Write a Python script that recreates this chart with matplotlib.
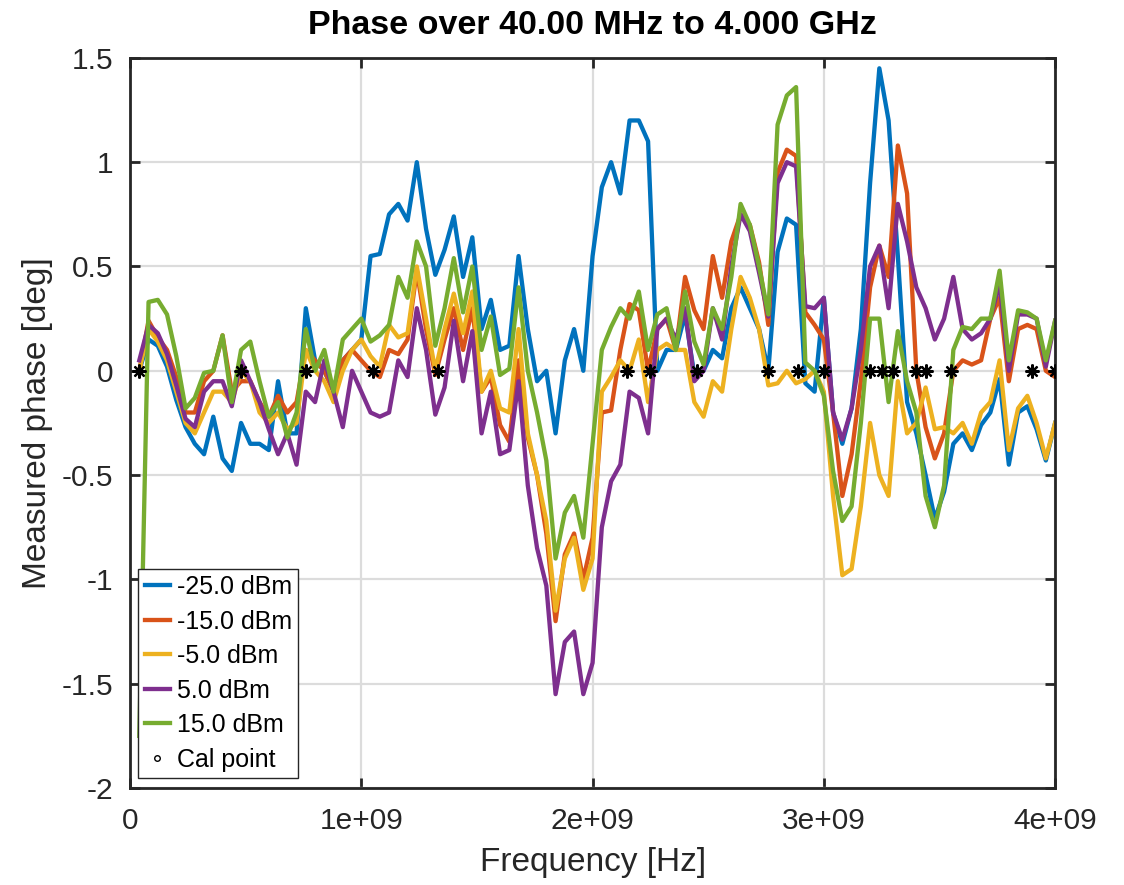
import numpy as np
import matplotlib.pyplot as plt
from matplotlib.lines import Line2D

plt.rcParams['font.family'] = ['Liberation Sans', 'DejaVu Sans']

# frequency grid, 40 MHz steps from 40 MHz to 4 GHz
freq = np.arange(1, 101) * 40e6

# measured phase [deg] per power level
p_m25 = [0.0, 0.15, 0.12, 0.02, -0.14, -0.27, -0.35, -0.4, -0.22, -0.42,
         -0.48, -0.25, -0.35, -0.35, -0.38, -0.05, -0.3, -0.3, 0.3, 0.05,
         0.0, -0.1, 0.05, 0.1, 0.15, 0.55, 0.56, 0.75, 0.8, 0.72,
         1.0, 0.68, 0.46, 0.58, 0.74, 0.45, 0.64, 0.2, 0.34, 0.1,
         0.12, 0.55, 0.2, -0.05, 0.0, -0.3, 0.05, 0.2, 0.0, 0.55,
         0.88, 1.0, 0.85, 1.2, 1.2, 1.1, 0.0, 0.1, 0.1, 0.27,
         -0.02, 0.0, 0.1, 0.06, 0.3, 0.4, 0.3, 0.2, 0.0, 0.57,
         0.73, 0.7, -0.06, -0.1, 0.35, -0.2, -0.35, -0.18, 0.2, 0.9,
         1.45, 1.2, 0.55, -0.15, -0.3, -0.5, -0.71, -0.58, -0.35, -0.3,
         -0.38, -0.26, -0.2, -0.04, -0.45, -0.2, -0.17, -0.28, -0.43, -0.25]

p_m15 = [0.0, 0.24, 0.16, 0.1, -0.03, -0.2, -0.2, -0.05, 0.0, 0.17,
         -0.1, -0.05, -0.05, -0.15, -0.22, -0.12, -0.2, -0.15, 0.1, 0.05,
         0.0, -0.1, 0.05, 0.1, 0.05, 0.0, -0.03, 0.1, 0.08, 0.15,
         0.48, 0.2, -0.02, 0.15, 0.3, 0.1, 0.3, -0.1, -0.03, -0.26,
         -0.34, 0.05, -0.32, -0.5, -0.78, -1.2, -0.88, -0.78, -1.0, -0.8,
         -0.2, -0.19, 0.1, 0.32, 0.29, 0.0, 0.2, 0.25, 0.1, 0.45,
         0.29, 0.2, 0.55, 0.35, 0.62, 0.75, 0.7, 0.52, 0.22, 0.95,
         1.06, 1.03, 0.28, 0.22, 0.15, -0.2, -0.6, -0.4, -0.05, 0.4,
         0.6, 0.45, 1.08, 0.85, 0.0, -0.27, -0.42, -0.3, 0.0, 0.05,
         0.03, 0.05, 0.25, 0.35, -0.05, 0.2, 0.22, 0.2, 0.0, -0.03]

p_m5 = [0.0, 0.2, 0.14, 0.05, -0.1, -0.25, -0.3, -0.2, -0.1, -0.1,
        -0.15, 0.0, -0.05, -0.2, -0.25, -0.2, -0.28, -0.25, 0.1, 0.0,
        -0.05, -0.15, 0.0, 0.1, 0.15, 0.07, 0.02, 0.22, 0.16, 0.18,
        0.5, 0.25, 0.0, 0.2, 0.37, 0.18, 0.38, -0.1, 0.0, -0.18,
        -0.2, 0.2, -0.3, -0.5, -0.72, -1.15, -0.9, -0.8, -1.05, -0.9,
        -0.1, -0.03, 0.05, 0.0, 0.15, -0.15, 0.1, 0.13, 0.1, 0.1,
        -0.15, -0.22, -0.05, -0.1, 0.2, 0.45, 0.35, 0.2, -0.07, -0.06,
        0.0, -0.06, -0.04, 0.0, -0.1, -0.6, -0.98, -0.95, -0.65, -0.25,
        -0.5, -0.6, -0.05, -0.3, -0.25, -0.08, -0.28, -0.27, -0.3, -0.25,
        -0.35, -0.2, -0.15, 0.05, -0.38, -0.18, -0.12, -0.25, -0.42, -0.25]

p_p5 = [0.05, 0.22, 0.18, 0.08, -0.07, -0.23, -0.27, -0.1, -0.05, -0.05,
        -0.17, 0.05, -0.05, -0.15, -0.28, -0.4, -0.3, -0.45, -0.1, -0.15,
        0.05, -0.1, -0.27, 0.0, -0.1, -0.2, -0.22, -0.2, 0.05, -0.03,
        0.3, 0.1, -0.21, -0.08, 0.24, -0.05, 0.19, -0.3, -0.1, -0.4,
        -0.38, -0.05, -0.55, -0.85, -1.03, -1.55, -1.3, -1.25, -1.55, -1.4,
        -0.75, -0.53, -0.45, -0.1, -0.13, -0.3, 0.2, 0.25, 0.15, 0.3,
        -0.05, 0.0, 0.3, 0.15, 0.5, 0.75, 0.67, 0.47, 0.26, 0.9,
        1.0, 0.98, 0.31, 0.3, 0.35, -0.2, -0.33, -0.18, 0.1, 0.5,
        0.6, 0.3, 0.8, 0.62, 0.4, 0.3, 0.15, 0.25, 0.45, 0.2,
        0.15, 0.18, 0.25, 0.42, 0.0, 0.27, 0.27, 0.25, 0.02, 0.24]

p_p15 = [-1.75, 0.33, 0.34, 0.27, 0.07, -0.18, -0.13, -0.01, 0.0, 0.17,
         -0.15, 0.1, 0.14, -0.05, -0.22, -0.15, -0.32, -0.2, 0.2, 0.0,
         0.1, -0.1, 0.15, 0.2, 0.25, 0.14, 0.17, 0.22, 0.45, 0.35,
         0.62, 0.5, 0.12, 0.3, 0.54, 0.28, 0.5, 0.1, 0.26, -0.02,
         0.01, 0.4, 0.0, -0.2, -0.43, -0.9, -0.68, -0.6, -0.8, -0.35,
         0.1, 0.21, 0.3, 0.25, 0.38, 0.1, 0.27, 0.3, 0.1, 0.38,
         0.14, 0.03, 0.3, 0.2, 0.45, 0.8, 0.7, 0.5, 0.27, 1.18,
         1.32, 1.36, 0.04, 0.0, -0.12, -0.48, -0.72, -0.65, -0.25, 0.25,
         0.25, -0.15, 0.19, -0.05, -0.2, -0.6, -0.75, -0.55, 0.1, 0.21,
         0.2, 0.25, 0.25, 0.48, 0.05, 0.29, 0.28, 0.25, 0.05, 0.24]

series = [p_m25, p_m15, p_m5, p_p5, p_p15]
labels = ['-25.0 dBm', '-15.0 dBm', '-5.0 dBm', '5.0 dBm', '15.0 dBm']
colors = ['#0072BD', '#D95319', '#EDB120', '#7E2F8E', '#77AC30']

cal_freq = np.array([40, 480, 760, 1050, 1330, 2150, 2250, 2450, 2760, 2890,
                     3000, 3200, 3250, 3300, 3400, 3440, 3550, 3900, 4000]) * 1e6
cal_phase = np.zeros(len(cal_freq))

fig = plt.figure(figsize=(11.24, 8.85), dpi=100)
ax = fig.add_axes([0.1157, 0.1096, 0.823, 0.825])

for y, lab, c in zip(series, labels, colors):
    ax.plot(freq, y, color=c, lw=3.1, label=lab)
ax.plot(cal_freq, cal_phase, ls='none', marker=(8, 2, 0), ms=10, mew=1.6,
        color='black', zorder=5)

ax.set_xlim(0, 4e9)
ax.set_ylim(-2, 1.5)
ax.set_xticks([0, 1e9, 2e9, 3e9, 4e9])
ax.set_xticklabels(['0', '1e+09', '2e+09', '3e+09', '4e+09'])
ax.set_yticks([-2, -1.5, -1, -0.5, 0, 0.5, 1, 1.5])
ax.set_yticklabels(['-2', '-1.5', '-1', '-0.5', '0', '0.5', '1', '1.5'])
ax.grid(True, color='#dcdcdc', lw=1.6)
ax.set_axisbelow(True)
ax.tick_params(direction='in', length=7, width=2, top=True, right=True,
               labelsize=21.5, colors='#262626')
ax.tick_params(axis='x', pad=14)
ax.tick_params(axis='y', pad=12)
for s in ax.spines.values():
    s.set_linewidth(2)
    s.set_color('#262626')

ax.set_title('Phase over 40.00 MHz to 4.000 GHz', fontsize=24.5, fontweight='bold', pad=17)
ax.set_xlabel('Frequency [Hz]', fontsize=24, color='#262626', labelpad=8)
ax.set_ylabel('Measured phase [deg]', fontsize=24, color='#262626', labelpad=6)

handles, labs = ax.get_legend_handles_labels()
handles.append(Line2D([], [], ls='none', marker='o', ms=4, mfc='white',
                      mec='black', mew=1))
labs.append('Cal point')
leg = ax.legend(handles, labs, loc='lower left', bbox_to_anchor=(0.009, 0.014),
                borderaxespad=0, fontsize=18, handlelength=1.0, handletextpad=0.3,
                labelspacing=0.42, borderpad=0.25, fancybox=False, framealpha=1)
leg.get_frame().set_edgecolor('#262626')
leg.get_frame().set_linewidth(1)

plt.savefig('out.png')
